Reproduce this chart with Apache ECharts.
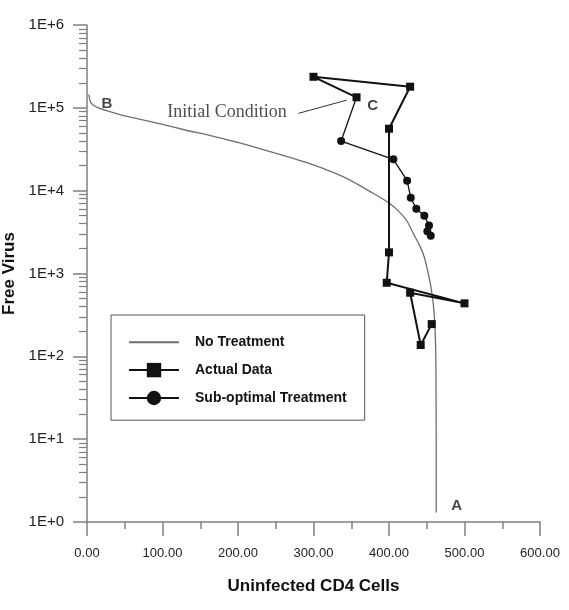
<!DOCTYPE html>
<html>
<head>
<meta charset="utf-8">
<script src="https://cdn.jsdelivr.net/npm/echarts@6/dist/echarts.min.js"></script>
<style>
  html, body { margin: 0; padding: 0; background: #fff; }
  #main { width: 569px; height: 610px; }
</style>
</head>
<body>
<div id="main"></div>
<script>
// no treatment trajectory (CD4 cells, free virus)
var noTreatX = [2.5, 4, 8, 15, 25, 45, 65, 100, 130, 165, 196, 230, 262, 300, 344, 379, 401, 415, 424, 433, 441, 447, 452, 456, 459, 461, 462, 462.3, 462.5, 462.5];
var noTreatY = [145000, 122000, 108000, 100000, 93000, 82000, 74500, 63000, 54000, 46000, 39000, 32000, 26300, 20500, 14100, 9300, 7000, 5400, 4270, 2950, 2140, 1550, 1000, 650, 400, 210, 100, 40, 10, 1.3];

// actual data, starting at the initial condition C
var actualX = [357, 300, 428, 400, 400, 397, 500, 428, 442, 456.6];
var actualY = [134000, 237000, 180000, 56000, 1800, 773, 436, 586, 137, 245];

// sub-optimal treatment, starting at C
var subX = [357, 336.6, 405.8, 424, 428.8, 436.2, 446.8, 453, 450.8, 455.3];
var subY = [134000, 39700, 23900, 13200, 8200, 6050, 4980, 3800, 3230, 2860];

// annotations [x, y, text]
var notes = [[26.5, 111000, 'B'], [378.5, 106000, 'C'], [489.7, 1.56, 'A']];
var initNote = [185.3, 89600, 'Initial Condition'];
var noteLine = [[280, 85700], [344, 124000]];

var yMajor = [1, 10, 100, 1000, 10000, 100000, 1000000];
var yMinor = [];
yMajor.slice(0, 6).forEach(function (d) {
  for (var k = 2; k <= 9; k++) yMinor.push(d * k);
});

function zip(xs, ys) {
  return xs.map(function (x, i) { return [x, ys[i]]; });
}

var axisGrey = '#808080';
var font = 'Arial, Liberation Sans, sans-serif';
var chart = echarts.init(document.getElementById('main'));

chart.setOption({
  animation: false,
  grid: { left: 87, top: 25, width: 453, height: 497, outerBoundsMode: 'none', containLabel: false },
  legend: {
    orient: 'vertical',
    left: 111,
    top: 315,
    data: [
      { name: 'No Treatment', itemStyle: { opacity: 0 } },
      'Actual Data',
      'Sub-optimal Treatment'
    ],
    itemWidth: 50,
    itemHeight: 18,
    itemGap: 13.5,
    padding: [20, 18, 15, 17],
    borderColor: '#555',
    borderWidth: 1,
    textStyle: {
      fontFamily: font,
      fontWeight: 'bold',
      fontSize: 14,
      color: '#111',
      padding: [0, 0, 0, 11]
    }
  },
  xAxis: {
    type: 'value',
    min: 0,
    max: 600,
    interval: 100,
    name: 'Uninfected CD4 Cells',
    nameLocation: 'middle',
    nameGap: 56,
    nameTextStyle: { fontFamily: font, fontWeight: 'bold', fontSize: 17, color: '#111' },
    axisLine: { lineStyle: { color: axisGrey, width: 1.5 } },
    axisTick: { length: 14, lineStyle: { color: axisGrey, width: 1.5 } },
    minorTick: { show: true, splitNumber: 2, length: 7, lineStyle: { color: axisGrey, width: 1.5 } },
    axisLabel: {
      margin: 25,
      fontFamily: font,
      fontSize: 13,
      color: '#222',
      formatter: function (v) { return v.toFixed(2); }
    },
    splitLine: { show: false }
  },
  yAxis: [{
    type: 'log',
    logBase: 10,
    min: 1,
    max: 1000000,
    name: 'Free Virus',
    nameLocation: 'middle',
    nameGap: 63,
    nameTextStyle: { fontFamily: font, fontWeight: 'bold', fontSize: 17, color: '#111' },
    axisLine: { show: true, lineStyle: { color: axisGrey, width: 1.5 } },
    axisTick: { show: true, length: 14, customValues: yMajor, lineStyle: { color: axisGrey, width: 1.5 } },
    axisLabel: {
      margin: 23,
      customValues: yMajor,
      fontFamily: font,
      fontSize: 15,
      color: '#222',
      formatter: function (v) { return '1E+' + Math.round(Math.log10(v)); }
    },
    splitLine: { show: false }
  }, {
    // minor ticks (2..9 within each decade), drawn on an exponent axis
    type: 'value',
    min: 0,
    max: 6,
    position: 'left',
    axisLine: { show: false },
    axisTick: {
      show: true,
      length: 8,
      customValues: yMinor.map(function (v) { return Math.log10(v); }),
      lineStyle: { color: axisGrey, width: 1.2 }
    },
    axisLabel: { show: false },
    splitLine: { show: false }
  }],
  series: [
    {
      name: 'No Treatment',
      type: 'line',
      data: zip(noTreatX, noTreatY),
      symbol: 'none',
      smooth: 0.2,
      lineStyle: { color: '#6e6e6e', width: 1.3 },
      itemStyle: { color: '#6e6e6e' },
      z: 2
    },
    {
      name: 'Sub-optimal Treatment',
      type: 'line',
      data: zip(subX, subY).map(function (p, i) {
        return i === 0 ? { value: p, symbol: 'none' } : p;
      }),
      symbol: 'circle',
      symbolSize: 8,
      lineStyle: { color: '#111', width: 1.3 },
      itemStyle: { color: '#111' },
      z: 3
    },
    {
      name: 'Actual Data',
      type: 'line',
      data: zip(actualX, actualY),
      symbol: 'rect',
      symbolSize: 8,
      lineStyle: { color: '#111', width: 2 },
      itemStyle: { color: '#111' },
      z: 4
    },
    {
      name: 'pointer',
      type: 'line',
      data: noteLine,
      symbol: 'none',
      silent: true,
      lineStyle: { color: '#333', width: 1 },
      z: 4
    },
    {
      name: 'labels',
      type: 'scatter',
      symbolSize: 0,
      silent: true,
      data: notes.map(function (n) { return { value: [n[0], n[1]], name: n[2] }; }),
      label: {
        show: true,
        position: 'inside',
        formatter: '{b}',
        fontFamily: font,
        fontWeight: 'bold',
        fontSize: 15,
        color: '#111'
      },
      z: 5
    },
    {
      name: 'initial',
      type: 'scatter',
      symbolSize: 0,
      silent: true,
      data: [{ value: [initNote[0], initNote[1]], name: initNote[2] }],
      label: {
        show: true,
        position: 'inside',
        formatter: '{b}',
        fontFamily: 'Times New Roman, Liberation Serif, serif',
        fontSize: 18,
        color: '#222'
      },
      z: 5
    }
  ]
});
</script>
</body>
</html>
